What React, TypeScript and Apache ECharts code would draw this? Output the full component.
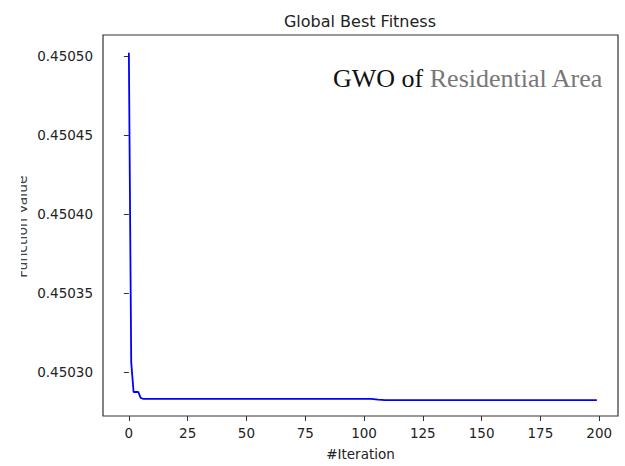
import React, { useEffect, useRef } from "react";
import * as echarts from "echarts";

// Change points of the global best fitness curve (iteration, value)
const iterations = [0, 1, 2, 4, 5, 6, 103, 106, 109, 199];
const fitness = [
  0.450502, 0.4503061, 0.4502873, 0.4502873, 0.4502836, 0.450283,
  0.450283, 0.4502825, 0.4502821, 0.4502821,
];
const xTicks = [0, 25, 50, 75, 100, 125, 150, 175, 200];
const yTicks = [0.4503, 0.45035, 0.4504, 0.45045, 0.4505];

const titleText = "Global Best Fitness";
const xName = "#Iteration";
const yName = "Function Value";

export default function App() {
  const ref = useRef<HTMLDivElement>(null);
  useEffect(() => {
    if (!ref.current) return;
    const chart = echarts.init(ref.current, undefined, { renderer: "svg" });
    const font = "DejaVu Sans";
    chart.setOption({
      animation: false,
      backgroundColor: "#ffffff",
      title: {
        text: titleText,
        left: 360,
        top: 13,
        padding: 0,
        textAlign: "center",
        textStyle: { fontFamily: font, fontSize: 16, fontWeight: "normal", color: "#222" },
      },
      grid: {
        left: 103,
        right: 7,
        top: 35,
        bottom: 48,
        show: true,
        borderColor: "#333",
        borderWidth: 1.2,
        backgroundColor: "transparent",
      },
      xAxis: {
        type: "value",
        min: -11,
        max: 208,
        name: xName,
        nameLocation: "middle",
        nameGap: 31,
        nameTextStyle: { fontFamily: font, fontSize: 13.5, color: "#222" },
        axisLine: { show: false },
        splitLine: { show: false },
        axisTick: {
          show: true,
          length: 5,
          lineStyle: { color: "#333" },
          customValues: xTicks,
        },
        axisLabel: {
          customValues: xTicks,
          margin: 10,
          fontFamily: font,
          fontSize: 13.5,
          color: "#222",
        },
      },
      yAxis: {
        type: "value",
        min: 0.4502721,
        max: 0.4505132,
        axisLine: { show: false },
        splitLine: { show: false },
        axisTick: {
          show: true,
          length: 5,
          lineStyle: { color: "#333" },
          customValues: yTicks,
        },
        axisLabel: {
          customValues: yTicks,
          margin: 10,
          fontFamily: font,
          fontSize: 13.5,
          color: "#222",
          formatter: (v: number) => v.toFixed(5),
        },
      },
      series: [
        {
          type: "line",
          data: iterations.map((it, i) => [it, fitness[i]]),
          showSymbol: false,
          lineStyle: { color: "#0000ff", width: 1.8 },
          itemStyle: { color: "#0000ff" },
          z: 3,
        },
      ],
      graphic: [
        {
          type: "text",
          x: 333,
          y: 78,
          style: {
            text: "{a|GWO of }{b|Residential Area}",
            verticalAlign: "middle",
            align: "left",
            rich: {
              a: { fontFamily: "Liberation Serif", fontSize: 26, fill: "#111" },
              b: { fontFamily: "Liberation Serif", fontSize: 26, fill: "#777" },
            },
          },
          z: 10,
        },
        {
          type: "text",
          x: 21.5,
          y: 226.5,
          rotation: Math.PI / 2,
          style: {
            text: yName,
            align: "center",
            verticalAlign: "middle",
            fontFamily: font,
            fontSize: 14,
            fill: "#444",
          },
          z: 5,
        },
        {
          type: "rect",
          shape: { x: 0, y: 150, width: 21, height: 150 },
          style: { fill: "#ffffff" },
          z: 6,
        },
      ],
    });
    return () => chart.dispose();
  }, []);
  return <div ref={ref} style={{ width: 625, height: 466, position: "absolute", left: 0, top: 0 }} />;
}
